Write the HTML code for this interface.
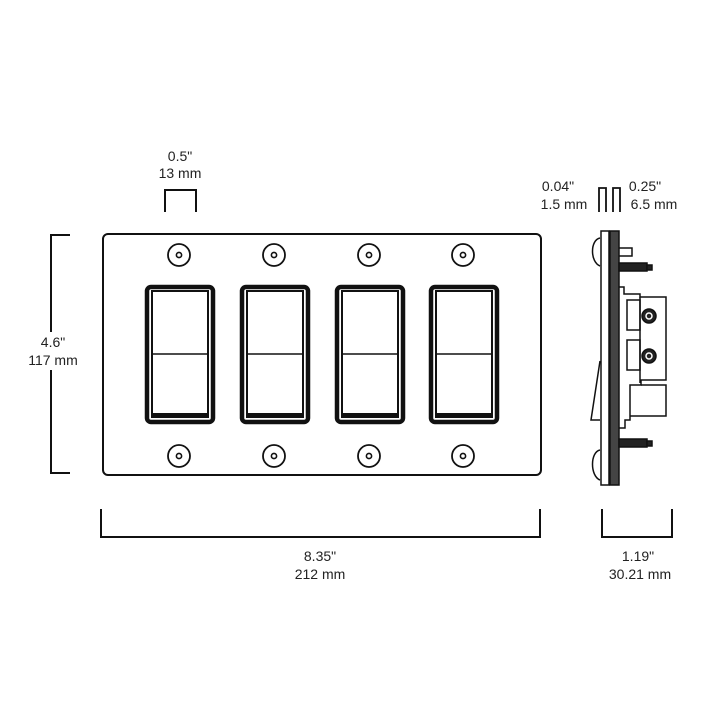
<!DOCTYPE html>
<html><head><style>
body{margin:0;background:#fff}
svg text{font-family:"Liberation Sans",sans-serif;font-size:14px;fill:#222;text-anchor:middle}
</style></head><body>
<svg width="710" height="710" viewBox="0 0 710 710" xmlns="http://www.w3.org/2000/svg">
<g fill="none" stroke="#111" stroke-width="2">
<rect x="103" y="234" width="438" height="241" rx="5"/>
<path d="M70 235H51V473H70"/>
<path d="M101 509V537H540V509"/>
<path d="M602 509V537H672V509"/>
<path d="M165 212V190H196V212"/>
<path d="M599 212V188H606V212M613 212V188H620V212" stroke-width="1.8"/>
</g>
<rect x="24" y="332" width="58" height="38" fill="#fff"/>
<g id="sw">
<circle cx="179" cy="255" r="11" fill="none" stroke="#111" stroke-width="1.8"/>
<circle cx="179" cy="255" r="2.6" fill="none" stroke="#111" stroke-width="1.6"/>
<circle cx="179" cy="456" r="11" fill="none" stroke="#111" stroke-width="1.8"/>
<circle cx="179" cy="456" r="2.6" fill="none" stroke="#111" stroke-width="1.6"/>
<rect x="147" y="287" width="66" height="135" rx="4" fill="none" stroke="#111" stroke-width="4.5"/>
<rect x="152" y="291" width="56" height="126" fill="none" stroke="#111" stroke-width="2"/>
<rect x="152" y="413" width="56" height="5" fill="#111"/>
<line x1="152" y1="354" x2="208" y2="354" stroke="#111" stroke-width="1.5"/>
</g>
<use href="#sw" x="95"/>
<use href="#sw" x="190"/>
<use href="#sw" x="284"/>
<g stroke="#111" stroke-width="1.5" fill="none">
<rect x="601" y="231" width="8" height="254"/>
<rect x="610" y="231" width="9" height="254" fill="#444"/>
<path d="M600 238C590 240 590 262 600 266"/>
<path d="M600 450C590 452 590 476 600 480"/>
<path d="M619 248H632V256H619"/>
<rect x="619" y="263" width="28" height="8" fill="#222"/>
<rect x="647" y="265" width="5" height="5" fill="#222"/>
<rect x="619" y="439" width="28" height="8" fill="#222"/>
<rect x="647" y="441" width="5" height="5" fill="#222"/>
<path d="M619 287H624V294H640V297H666V380H641V385H630V420H625V428H619"/>
<path d="M640 297V383"/>
<path d="M627 300H640V330H627Z M627 340H640V370H627Z"/>
<path d="M641 385H666V416H630"/>
<path d="M600 361L591 420H600"/>
<circle cx="649" cy="316" r="7" fill="#222"/>
<circle cx="649" cy="356" r="7" fill="#222"/>
<circle cx="649" cy="316" r="3" stroke="#fff"/>
<circle cx="649" cy="356" r="3" stroke="#fff"/>
</g>
<text x="180" y="161">0.5"</text>
<text x="180" y="178">13 mm</text>
<text x="53" y="347">4.6"</text>
<text x="53" y="365">117 mm</text>
<text x="320" y="561">8.35"</text>
<text x="320" y="579">212 mm</text>
<text x="638" y="561">1.19"</text>
<text x="640" y="579">30.21 mm</text>
<text x="558" y="191">0.04"</text>
<text x="564" y="209">1.5 mm</text>
<text x="645" y="191">0.25"</text>
<text x="654" y="209">6.5 mm</text>
</svg>
</body></html>
